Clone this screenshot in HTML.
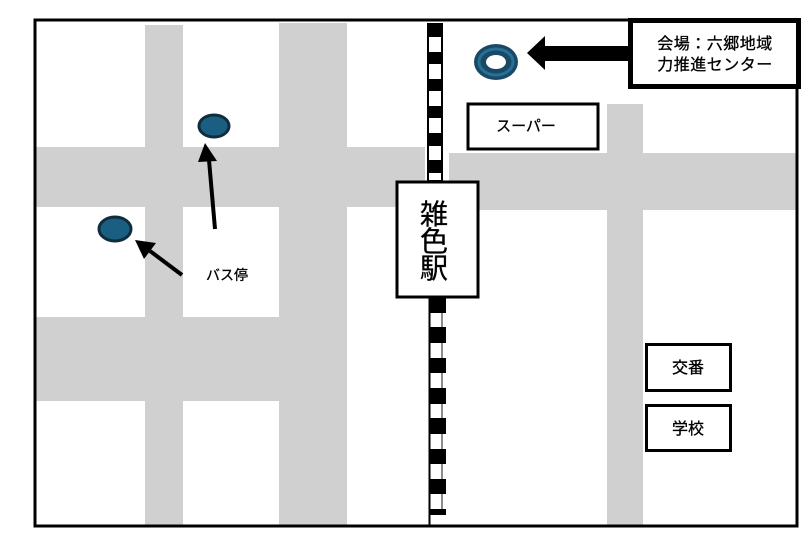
<!DOCTYPE html>
<html><head><meta charset="utf-8"><style>
html,body{margin:0;padding:0;background:#fff;width:808px;height:555px;overflow:hidden}
svg text{font-family:"Liberation Sans","Noto Sans CJK JP",sans-serif;fill:#000;stroke:#000;stroke-width:0.3}
</style></head><body>
<svg width="808" height="555" viewBox="0 0 808 555" xmlns="http://www.w3.org/2000/svg">
<g fill="#d0d0d0">
<rect x="145" y="25" width="38" height="500"/>
<rect x="279" y="23" width="68" height="502"/>
<rect x="36" y="147" width="389" height="60"/>
<rect x="36" y="317" width="311" height="84"/>
<rect x="449" y="153" width="348" height="57"/>
<rect x="607" y="104" width="36" height="421"/>
</g>
<rect x="35" y="20" width="762" height="506" fill="none" stroke="#000" stroke-width="3"/>
<g>
<rect x="428" y="24" width="14" height="157" fill="#fff" stroke="#000" stroke-width="2"/>
<g fill="#000">
<rect x="428" y="24" width="14" height="13"/>
<rect x="428" y="52" width="14" height="12"/>
<rect x="428" y="79" width="14" height="12"/>
<rect x="428" y="106" width="14" height="12"/>
<rect x="428" y="133" width="14" height="13"/>
<rect x="428" y="160" width="14" height="13"/>
</g>
<line x1="429.5" y1="298" x2="429.5" y2="526" stroke="#000" stroke-width="2"/>
<line x1="442" y1="298" x2="442" y2="515" stroke="#666" stroke-width="1.5"/>
<g fill="#000">
<rect x="430" y="298" width="16" height="15"/>
<rect x="430" y="327" width="16" height="16"/>
<rect x="430" y="358" width="16" height="15"/>
<rect x="430" y="388" width="16" height="16"/>
<rect x="430" y="418" width="16" height="16"/>
<rect x="430" y="449" width="16" height="15"/>
<rect x="430" y="479" width="16" height="15"/>
<rect x="430" y="509" width="16" height="6"/>
</g>
</g>
<rect x="397" y="182" width="81" height="115" fill="#fff" stroke="#000" stroke-width="3"/>
<text x="434" y="224" font-size="28" text-anchor="middle">雑</text>
<text x="434" y="251" font-size="28" text-anchor="middle">色</text>
<text x="434" y="278" font-size="28" text-anchor="middle">駅</text>
<rect x="630.5" y="20.5" width="168" height="66" fill="#fff" stroke="#000" stroke-width="5"/>
<text x="715" y="49" font-size="16" text-anchor="middle" letter-spacing="0.5">会場：六郷地域</text>
<text x="715" y="70" font-size="16" text-anchor="middle" letter-spacing="0.5">力推進センター</text>
<rect x="545" y="46" width="83" height="15" fill="#000"/>
<polygon points="527,53 545,36 545,70" fill="#000"/>
<ellipse cx="496" cy="62" rx="22" ry="18" fill="#184a66"/>
<ellipse cx="496" cy="62" rx="17" ry="13" fill="none" stroke="#2a6f95" stroke-width="3"/>
<ellipse cx="496" cy="62" rx="10" ry="7" fill="#fff"/>
<rect x="468" y="104" width="130" height="45" fill="#fff" stroke="#000" stroke-width="3"/>
<text x="526" y="131" font-size="15" text-anchor="middle">スーパー</text>
<rect x="646.5" y="344.5" width="84" height="46" fill="#fff" stroke="#000" stroke-width="3"/>
<text x="688" y="373" font-size="16" text-anchor="middle">交番</text>
<rect x="646.5" y="405.5" width="84" height="45" fill="#fff" stroke="#000" stroke-width="3"/>
<text x="688" y="434" font-size="16" text-anchor="middle">学校</text>
<ellipse cx="214" cy="126" rx="15" ry="11" fill="#1a5f82" stroke="#0f2d3d" stroke-width="3"/>
<ellipse cx="115" cy="229" rx="16" ry="12" fill="#1a5f82" stroke="#0f2d3d" stroke-width="3"/>
<line x1="215" y1="229" x2="209" y2="160" stroke="#000" stroke-width="4"/>
<polygon points="205,143 198,162 217,161" fill="#000"/>
<line x1="182" y1="275" x2="150" y2="251" stroke="#000" stroke-width="4"/>
<polygon points="135,240 156,243 144,259" fill="#000"/>
<text x="206" y="280" font-size="14">バス停</text>
</svg>
</body></html>
